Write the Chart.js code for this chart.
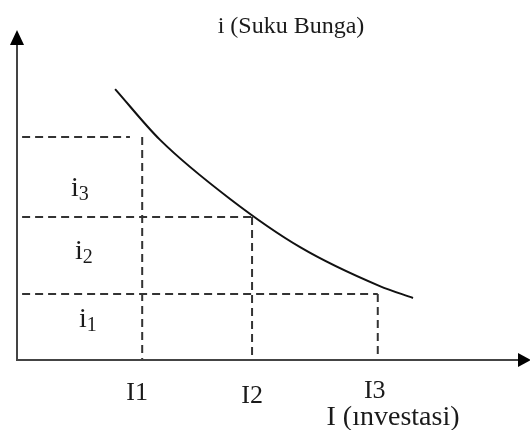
<!DOCTYPE html>
<html>
<head>
<meta charset="utf-8">
<script src="https://cdn.jsdelivr.net/npm/chart.js@4.4.0/dist/chart.umd.min.js"></script>
<style>
  html, body { margin: 0; padding: 0; background: #fff; }
  #chart { display: block; }
</style>
</head>
<body>
<canvas id="chart" width="530" height="430"></canvas>
<script>
// Kurva investasi (satuan sumbu 0-10)
const curveX = [1.92, 2.80, 4.17, 5.54, 7.10, 7.75]
const curveY = [8.21, 6.67, 4.88, 3.42, 2.24, 1.88]

// I1, I2, I3 pada sumbu x
const investasi = [2.45, 4.60, 7.06]
const investasiLabels = ["I1", "I2", "I3"]

// i1, i2, i3 pada sumbu y
const sukuBunga = [2.0, 4.33, 6.76]
const sukuBungaSub = ["1", "2", "3"]

// ujung garis putus-putus horizontal (i1 -> I3, i2 -> I2, i3 -> dekat I1)
const hGuideEnd = [7.06, 4.60, 2.21]
const guideStart = 0.1

const yTitle = "i (Suku Bunga)"
const xTitle = "I (\u0131nvestasi)"

const SERIF = "'Liberation Serif', 'DejaVu Serif', serif"

function buildDatasets() {
  const guideStyle = {
    borderColor: "#333",
    borderWidth: 2,
    borderDash: [8, 5],
    pointRadius: 0,
    fill: false,
    tension: 0,
  }
  const sets = [
    {
      label: "kurva",
      data: curveX.map((x, k) => ({ x: x, y: curveY[k] })),
      borderColor: "#111",
      borderWidth: 2,
      pointRadius: 0,
      cubicInterpolationMode: "monotone",
      fill: false,
    },
  ]
  // horizontal: i1 ke I3, i2 ke I2, i3 ke I1
  sukuBunga.forEach((level, k) => {
    sets.push(Object.assign({}, guideStyle, {
      label: "h" + k,
      data: [{ x: guideStart, y: level }, { x: hGuideEnd[k], y: level }],
    }))
  })
  // vertikal: I1 dari i3, I2 dari i2, I3 dari i1
  investasi.forEach((pos, k) => {
    const top = sukuBunga[sukuBunga.length - 1 - k]
    sets.push(Object.assign({}, guideStyle, {
      label: "v" + k,
      data: [{ x: pos, y: top }, { x: pos, y: 0 }],
    }))
  })
  return sets
}

/**
 * Sumbu dengan panah dan semua teks
 */
const axesPlugin = {
  id: "axesPlugin",
  afterDatasetsDraw(chart) {
    const ctx = chart.ctx
    const area = chart.chartArea
    const xs = chart.scales.x
    const ys = chart.scales.y
    const x0 = area.left
    const y0 = area.bottom

    ctx.save()
    ctx.strokeStyle = "#444"
    ctx.fillStyle = "#000"
    ctx.lineWidth = 2

    // sumbu y
    ctx.beginPath()
    ctx.moveTo(x0, y0 + 1)
    ctx.lineTo(x0, area.top + 12)
    ctx.stroke()
    ctx.beginPath()
    ctx.moveTo(x0, area.top)
    ctx.lineTo(x0 - 7, area.top + 15)
    ctx.lineTo(x0 + 7, area.top + 15)
    ctx.closePath()
    ctx.fill()

    // sumbu x
    ctx.beginPath()
    ctx.moveTo(x0 - 1, y0)
    ctx.lineTo(area.right - 6, y0)
    ctx.stroke()
    ctx.beginPath()
    ctx.moveTo(area.right + 3, y0)
    ctx.lineTo(area.right - 10, y0 - 7)
    ctx.lineTo(area.right - 10, y0 + 7)
    ctx.closePath()
    ctx.fill()

    ctx.fillStyle = "#1a1a1a"
    ctx.textBaseline = "alphabetic"

    // judul sumbu y
    ctx.font = "24px " + SERIF
    ctx.textAlign = "center"
    ctx.fillText(yTitle, 291, 33)

    // label I1, I2, I3
    ctx.font = "26px " + SERIF
    const tickShift = [-5, 0, -3]
    const tickDrop = [40, 43, 38]
    investasi.forEach((pos, k) => {
      ctx.fillText(investasiLabels[k], xs.getPixelForValue(pos) + tickShift[k], y0 + tickDrop[k])
    })

    // judul sumbu x
    ctx.font = "28px " + SERIF
    ctx.fillText(xTitle, 393, y0 + 65)

    // label i1, i2, i3 di dalam pita
    const nudge = [0, 3, 19]
    const bands = [0].concat(sukuBunga)
    ctx.textAlign = "left"
    sukuBunga.forEach((level, k) => {
      const yb = (ys.getPixelForValue(bands[k]) + ys.getPixelForValue(bands[k + 1])) / 2 + nudge[k]
      const xl = 79 - k * 4
      ctx.font = "28px " + SERIF
      ctx.fillText("i", xl, yb)
      const w = ctx.measureText("i").width
      ctx.font = "20px " + SERIF
      ctx.fillText(sukuBungaSub[k], xl + w, yb + 4)
    })

    ctx.restore()
  },
}

function initializeChart() {
  const ctx = document.getElementById("chart")
  new Chart(ctx, {
    type: "line",
    data: { datasets: buildDatasets() },
    options: {
      responsive: false,
      animation: false,
      layout: { padding: { left: 17, right: 2, top: 30, bottom: 70 } },
      plugins: {
        legend: { display: false },
        tooltip: { enabled: false },
      },
      scales: {
        x: { type: "linear", min: 0, max: 10, display: false },
        y: { type: "linear", min: 0, max: 10, display: false },
      },
    },
    plugins: [axesPlugin],
  })
}

document.addEventListener("DOMContentLoaded", () => {
  initializeChart()
})
</script>
</body>
</html>
